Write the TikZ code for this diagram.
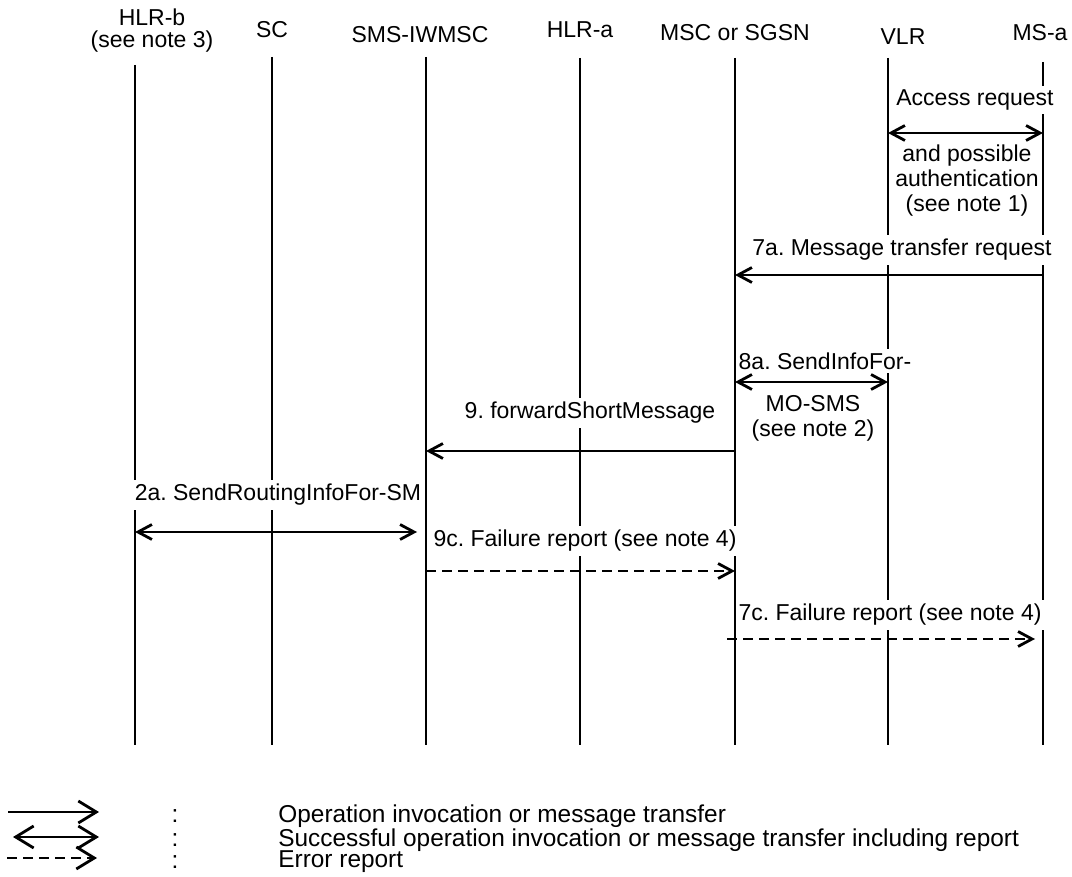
\documentclass[tikz,border=0pt]{standalone}
\usepackage{fontspec}
\setmainfont{Liberation Sans}
\usetikzlibrary{arrows.meta, calc}
\tikzstyle{lifeline} = [draw, line width=1pt]
\tikzstyle{msg} = [draw, line width=1.4pt]
\tikzstyle{err} = [draw, line width=1.4pt, dash pattern=on 5pt off 3pt]
\frenchspacing

\begin{document}
\begin{tikzpicture}[x=0.5pt, y=-0.5pt,
    >={Straight Barb[length=7pt, width=7.5pt]},   % Pfeilspitzen
    lbl/.style={fill=white, inner xsep=1.5pt, inner ysep=2pt},
    legtip/.style={>={Straight Barb[length=9pt, width=11pt]}},
    font=\fontsize{11.5}{12.5}\selectfont]
    % Bildbereich
    \useasboundingbox (0,0) rectangle (1072,877);
    % Instanzen und Lebenslinien
    \foreach \name/\x/\lx/\ly/\top/\label in {hlrb/135/152/31/65/{HLR-b\\(see note 3)}, sc/272/272/30/57/SC,
        iwmsc/426/420/35/57/SMS-IWMSC, hlra/580/580/30/58/HLR-a, msc/735/735/33/58/MSC or SGSN,
        vlr/888/903/37/58/VLR, msa/1043/1040/33/62/MS-a}
    {
        \node[align=center, font=\fontsize{11.5}{11}\selectfont] (\name) at (\lx,\ly) {\label};
        \coordinate (\name-top) at (\x,\top);
        \coordinate (\name-bot) at (\x,745);
        \draw[lifeline] (\name-top) -- (\name-bot);
    }
    % Hoehen der Nachrichten
    \coordinate (m1) at (0,133);
    \coordinate (m7a) at (0,275);
    \coordinate (m8a) at (0,382);
    \coordinate (m9) at (0,451);
    \coordinate (m2a) at (0,532);
    \coordinate (m9c) at (0,571);
    \coordinate (m7c) at (0,639);
    % Beschriftungen
    \node[lbl] (l1) at (975,100) {Access request};
    \node[lbl, align=center] (l1b) at (967,181) {and possible\\authentication\\(see note 1)};
    \node[lbl] (l7a) at (902,250) {7a. Message transfer request};
    \node[lbl] (l8a) at (825,361) {8a. SendInfoFor-};
    \node[lbl, align=center] (l8b) at (813,418) {MO-SMS\\(see note 2)};
    \node[lbl] (l9) at (590,413) {9. forwardShortMessage};
    \node[lbl] (l2a) at (278,495) {2a. SendRoutingInfoFor-SM};
    \node[lbl] (l9c) at (585,541) {9c. Failure report (see note 4)};
    \node[lbl] (l7c) at (890,615) {7c. Failure report (see note 4)};
    % Nachrichten
    \draw[msg, <->] (vlr-top |- m1) -- (msa-top |- m1);
    \draw[msg, ->] (msa-top |- m7a) -- (msc-top |- m7a);
    \draw[msg, <->] (msc-top |- m8a) -- (vlr-top |- m8a);
    \draw[msg, ->] (msc-top |- m9) -- (iwmsc-top |- m9);
    \draw[msg, <->] (hlrb-top |- m2a) -- ($(iwmsc-top |- m2a)+(-9,0)$);
    \draw[err, ->] (iwmsc-top |- m9c) -- (msc-top |- m9c);
    \draw[err, ->] ($(msc-top |- m7c)+(-8,0)$) -- ($(msa-top |- m7c)+(-8,0)$);
    % Legende
    \foreach \i/\y/\lab in {1/816/Operation invocation or message transfer,
        2/840/Successful operation invocation or message transfer including report,
        3/862/Error report}
    {
        \node[inner sep=0pt, font=\fontsize{12.2}{13}\selectfont] (c\i) at (175,\y) {:};
        \node[anchor=west, inner sep=0pt, font=\fontsize{12.2}{13}\selectfont] (t\i) at (278,\y) {\lab};
    }
    \coordinate (a1l) at (8,812);  \coordinate (a1r) at (99,812);
    \coordinate (a2l) at (13,837); \coordinate (a2r) at (99,837);
    \coordinate (a3l) at (7,858);  \coordinate (a3r) at (97,858);
    \draw[msg, legtip, ->] (a1l) -- (a1r);
    \draw[msg, legtip, <->] (a2l) -- (a2r);
    \draw[err, legtip, ->] (a3l) -- (a3r);
\end{tikzpicture}
\end{document}
